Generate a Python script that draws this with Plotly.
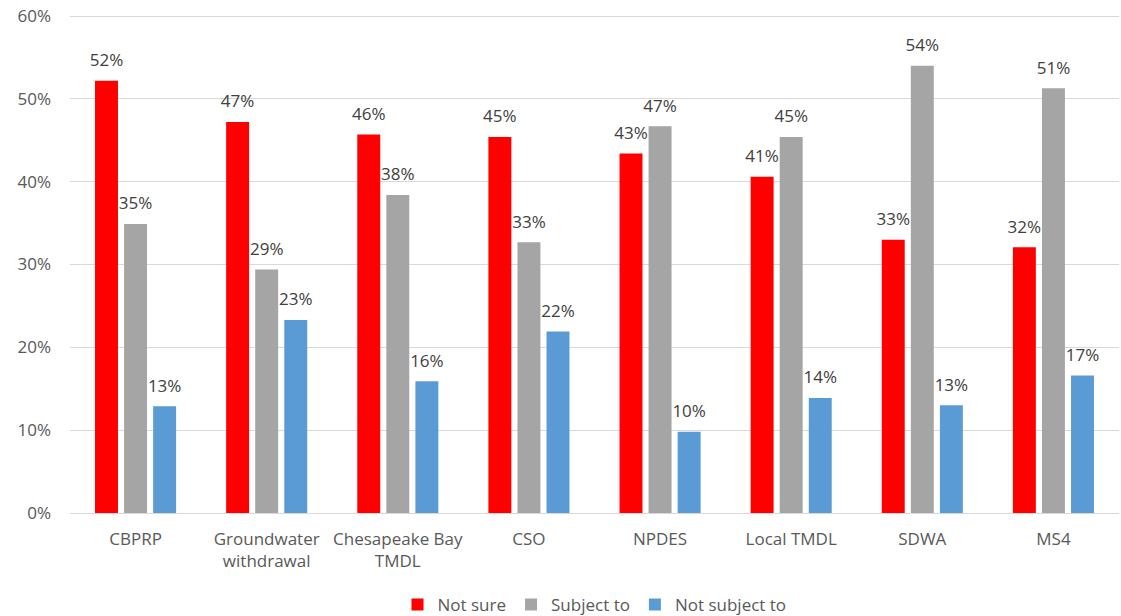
import plotly.graph_objects as go

categories = ["CBPRP", "Groundwater<br>withdrawal", "Chesapeake Bay<br>TMDL", "CSO",
              "NPDES", "Local TMDL", "SDWA", "MS4"]
not_sure = [52.2, 47.2, 45.7, 45.4, 43.4, 40.6, 33.0, 32.1]
subject_to = [34.9, 29.4, 38.4, 32.7, 46.7, 45.4, 54.0, 51.3]
not_subject_to = [12.9, 23.3, 15.9, 21.9, 9.8, 13.9, 13.0, 16.6]
series_names = ["Not sure", "Subject to", "Not subject to"]
colors = ["#FF0000", "#A5A5A5", "#5B9BD5"]
y_ticks = [0, 10, 20, 30, 40, 50, 60]

FONT = "'Open Sans', sans-serif"
TXT = "#595959"

fig = go.Figure()
series = [not_sure, subject_to, not_subject_to]
for i, (name, vals, col) in enumerate(zip(series_names, series, colors)):
    fig.add_trace(go.Bar(
        x=categories, y=vals, name=name, marker=dict(color=col, line=dict(width=0)),
        offsetgroup=str(i), hoverinfo="y",
    ))
for i, (name, vals, col) in enumerate(zip(series_names, series, colors)):
    fig.add_trace(go.Scatter(
        x=categories, y=vals, mode="markers+text", offsetgroup=str(i),
        text=[f"{round(v):d}%" for v in vals], textposition="top center",
        textfont=dict(family=FONT, size=17, color="#404040"),
        marker=dict(size=15, opacity=0), showlegend=False, hoverinfo="skip",
        cliponaxis=False,
    ))

fig.update_layout(
    width=1121, height=616,
    margin=dict(l=70, r=2, t=14, b=103, autoexpand=False),
    paper_bgcolor="white", plot_bgcolor="white",
    barmode="group", bargap=0.335, bargroupgap=0.21,
    scattermode="group", scattergap=0.335,
    font=dict(family=FONT, size=17, color=TXT),
    legend=dict(orientation="h", x=0.5, xanchor="center", y=-0.148, yanchor="top",
                font=dict(size=17, color=TXT), itemwidth=30, traceorder="normal"),
    showlegend=True,
)
fig.update_yaxes(range=[0, 60.25], tickvals=y_ticks, ticktext=[f"{t}%" for t in y_ticks],
                 showgrid=True, gridcolor="#D9D9D9", gridwidth=1, zeroline=True,
                 zerolinecolor="#D9D9D9", zerolinewidth=1, showline=False,
                 ticks="", ticklabelstandoff=18, tickfont=dict(size=17, color=TXT),
                 ticklabeloverflow="allow", automargin=False)
fig.update_xaxes(showgrid=False, showline=False, ticks="", tickfont=dict(size=17, color=TXT),
                 ticklabelstandoff=14, automargin=False)

fig.write_html(
    "out.html",
    config={"displayModeBar": False},
    post_script="document.body.style.margin='0';document.body.style.overflow='hidden';",
)
